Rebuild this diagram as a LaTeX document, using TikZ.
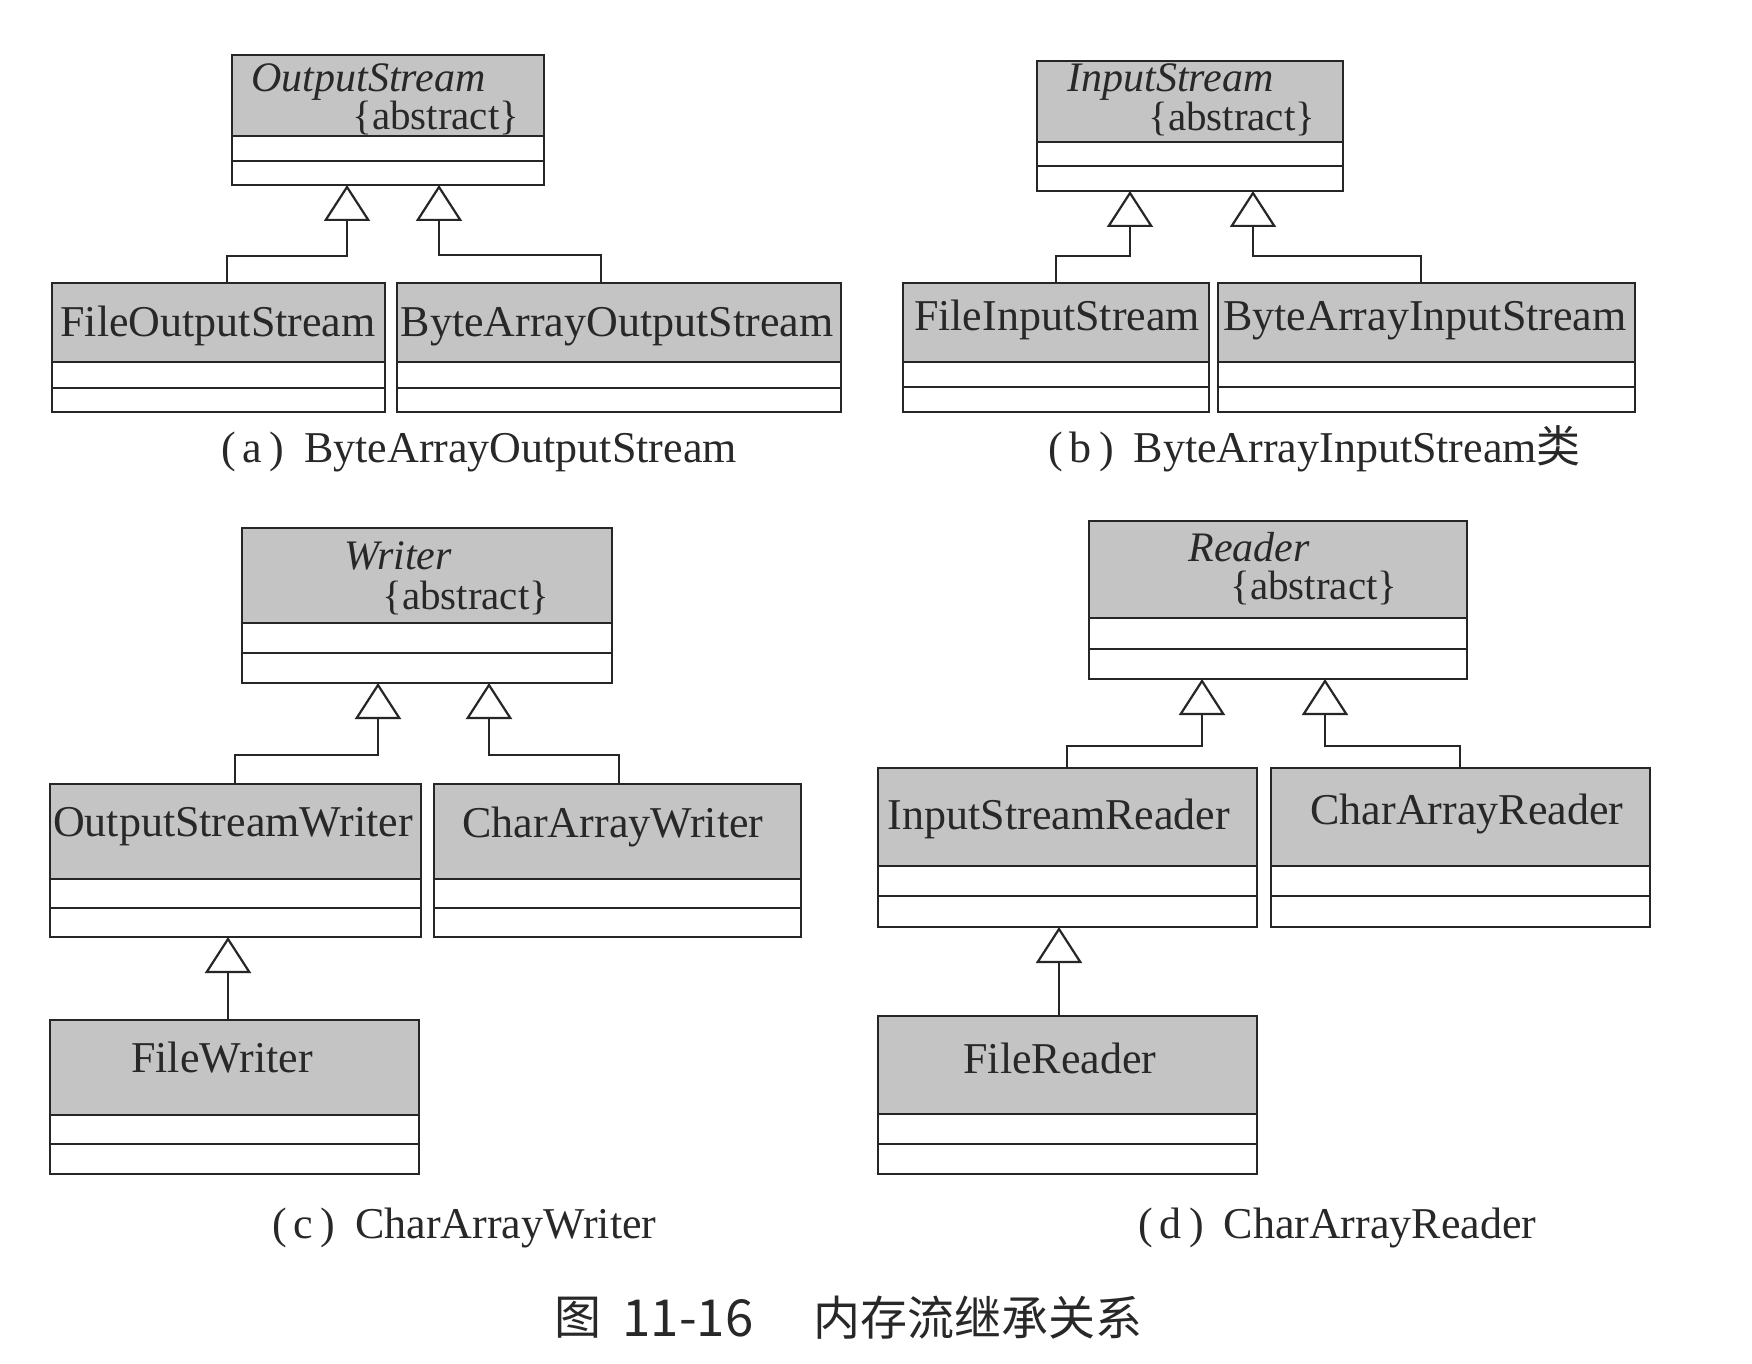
\documentclass[tikz,border=0pt]{standalone}
\usepackage{fontspec}
\setmainfont{Liberation Serif}
\newfontfamily\cjk{Noto Sans CJK SC}
\usetikzlibrary{arrows.meta,fit}
\definecolor{hdrgray}{RGB}{196,196,196}
\definecolor{ink}{RGB}{38,38,38}
\definecolor{txt}{RGB}{40,40,40}
\tikzset{
  classbox/.style={draw=ink, line width=1.25pt, inner sep=0pt, outer sep=0pt, rectangle},
  compline/.style={draw=ink, line width=1.25pt},
  cname/.style={text=txt, font=\fontsize{22}{26}\selectfont, inner sep=0pt, anchor=base},
  aname/.style={text=txt, font=\fontsize{21}{25}\selectfont\itshape, inner sep=0pt, anchor=base west, text depth=0pt},
  abst/.style={text=txt, font=\fontsize{20.5}{25}\selectfont, inner sep=0pt, anchor=base west},
  inh/.style={draw=ink, line width=1.1pt, -{Triangle[open, length=18pt, width=23pt]}},
  subcap/.style={text=txt, font=\fontsize{22}{26}\selectfont, inner sep=0pt, anchor=base west},
  figcap/.style={text=txt, font=\cjk\fontsize{23.5}{28}\selectfont, inner sep=0pt, anchor=center},
}
% name, x1, y1, x2, y2, header bottom, middle line
\newcommand\umlclass[7]{%
  \fill[hdrgray] (#2,#3) rectangle (#4,#6);
  \draw[compline] (#2,#6) -- (#4,#6);
  \draw[compline] (#2,#7) -- (#4,#7);
  \node[classbox, fit={(#2,#3) (#4,#5)}] (#1) {};
}
\begin{document}
\begin{tikzpicture}[x=0.5pt,y=-0.5pt]
\useasboundingbox[fill=white] (0,0) rectangle (1752,1364);

% ---------------- (a)
\umlclass{os}{232}{55}{544}{185}{136}{161}
\node[aname] (os-n) at (251,92) {OutputStream};
\node[abst] (os-a) at (352,130) {\{abstract\}};
\umlclass{fos}{52}{283}{385}{412}{362}{388}
\node[cname] (fos-t) at (218,337) {FileOutputStream};
\umlclass{baos}{397}{283}{841}{412}{362}{388}
\node[cname] (baos-t) at (617,337) {ByteArrayOutputStream};
\coordinate (ja1) at (227,256); \coordinate (pa1) at (347,0);
\coordinate (ja2) at (601,255); \coordinate (pa2) at (439,0);
\draw[inh] (fos.north -| ja1) -- (ja1) -- (ja1 -| pa1) -- (os.south -| pa1);
\draw[inh] (baos.north -| ja2) -- (ja2) -- (ja2 -| pa2) -- (os.south -| pa2);
\node[subcap] (capa) at (221,462) {(\kern3pt a\kern4pt)\kern10pt ByteArrayOutputStream};

% ---------------- (b)
\umlclass{is}{1037}{61}{1343}{191}{142}{166}
\node[aname] (is-n) at (1067,92) {InputStream};
\node[abst] (is-a) at (1148,131) {\{abstract\}};
\umlclass{fis}{903}{283}{1209}{412}{362}{387}
\node[cname] (fis-t) at (1057,331) {FileInputStream};
\umlclass{bais}{1218}{283}{1635}{412}{362}{387}
\node[cname] (bais-t) at (1425,331) {ByteArrayInputStream};
\coordinate (jb1) at (1056,256); \coordinate (pb1) at (1130,0);
\coordinate (jb2) at (1421,256); \coordinate (pb2) at (1253,0);
\draw[inh] (fis.north -| jb1) -- (jb1) -- (jb1 -| pb1) -- (is.south -| pb1);
\draw[inh] (bais.north -| jb2) -- (jb2) -- (jb2 -| pb2) -- (is.south -| pb2);
\node[subcap] (capb) at (1048,462) {(\kern3pt b\kern4pt)\kern10pt ByteArrayInputStream{\cjk 类}};

% ---------------- (c)
\umlclass{wr}{242}{528}{612}{683}{623}{653}
\node[aname] (wr-n) at (344,569) {Writer};
\node[abst] (wr-a) at (382,609) {\{abstract\}};
\umlclass{osw}{50}{784}{421}{937}{879}{908}
\node[cname] (osw-t) at (233,836) {OutputStreamWriter};
\umlclass{caw}{434}{784}{801}{937}{879}{908}
\node[cname] (caw-t) at (613,837) {CharArrayWriter};
\umlclass{fw}{50}{1020}{419}{1174}{1115}{1144}
\node[cname] (fw-t) at (222,1072) {FileWriter};
\coordinate (jc1) at (235,755); \coordinate (pc1) at (378,0);
\coordinate (jc2) at (619,755); \coordinate (pc2) at (489,0);
\coordinate (pc3) at (228,0);
\draw[inh] (osw.north -| jc1) -- (jc1) -- (jc1 -| pc1) -- (wr.south -| pc1);
\draw[inh] (caw.north -| jc2) -- (jc2) -- (jc2 -| pc2) -- (wr.south -| pc2);
\draw[inh] (fw.north -| pc3) -- (osw.south -| pc3);
\node[subcap] (capc) at (272,1238) {(\kern3pt c\kern4pt)\kern10pt CharArrayWriter};

% ---------------- (d)
\umlclass{rd}{1089}{521}{1467}{679}{618}{649}
\node[aname] (rd-n) at (1188,561) {Reader};
\node[abst] (rd-a) at (1230,599) {\{abstract\}};
\umlclass{isr}{878}{768}{1257}{927}{866}{896}
\node[cname] (isr-t) at (1059,829) {InputStreamReader};
\umlclass{car}{1271}{768}{1650}{927}{866}{896}
\node[cname] (car-t) at (1467,824) {CharArrayReader};
\umlclass{fr}{878}{1016}{1257}{1174}{1114}{1144}
\node[cname] (fr-t) at (1060,1073) {FileReader};
\coordinate (jd1) at (1067,746); \coordinate (pd1) at (1202,0);
\coordinate (jd2) at (1460,746); \coordinate (pd2) at (1325,0);
\coordinate (pd3) at (1059,0);
\draw[inh] (isr.north -| jd1) -- (jd1) -- (jd1 -| pd1) -- (rd.south -| pd1);
\draw[inh] (car.north -| jd2) -- (jd2) -- (jd2 -| pd2) -- (rd.south -| pd2);
\draw[inh] (fr.north -| pd3) -- (isr.south -| pd3);
\node[subcap] (capd) at (1138,1238) {(\kern3pt d\kern4pt)\kern10pt CharArrayReader};

% ---------------- figure caption
\node[figcap] (fig-a) at (578,1318) {图};
\node[figcap, font=\cjk\fontsize{25.5}{30}\selectfont] (fig-b) at (688,1318) {11-16};
\node[figcap] (fig-c) at (978,1318) {内存流继承关系};
\end{tikzpicture}
\end{document}
